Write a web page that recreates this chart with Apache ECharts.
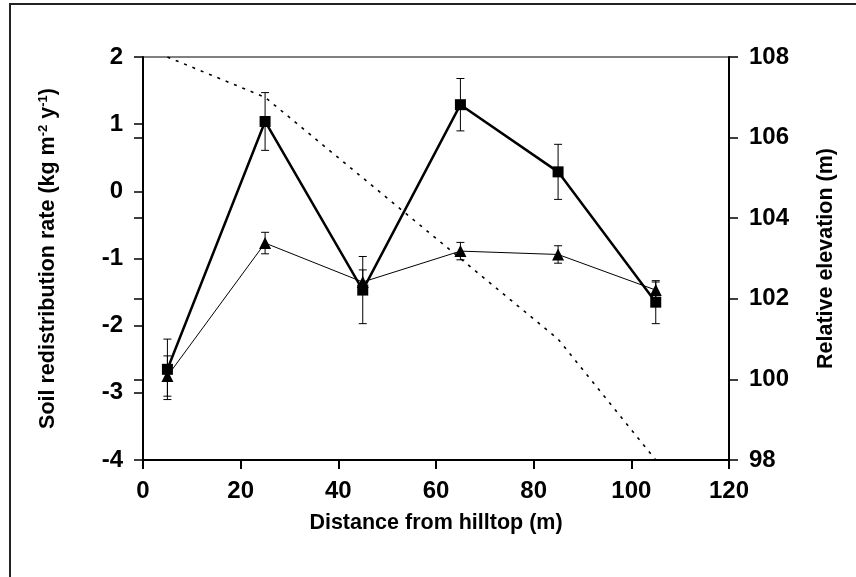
<!DOCTYPE html>
<html>
<head>
<meta charset="utf-8">
<script src="https://cdn.jsdelivr.net/npm/echarts@6/dist/echarts.min.js"></script>
<style>html,body{margin:0;padding:0;background:#fff}#c{width:856px;height:577px}</style>
</head>
<body>
<div id="c"></div>
<script>
// Data
var distance = [5, 25, 45, 65, 85, 105];
var squareMean = [-2.65, 1.04, -1.47, 1.29, 0.29, -1.65];
var squareErr  = [0.45, 0.43, 0.50, 0.39, 0.41, 0.32];
var triMean    = [-2.75, -0.77, -1.35, -0.89, -0.94, -1.47];
var triErr     = [0.30, 0.16, 0.18, 0.13, 0.13, 0.12];
var elevation  = [108.0, 107.0, 105.0, 103.0, 101.0, 98.0];
var xTicks = [0, 20, 40, 60, 80, 100, 120];
var yLeftTicks = [-4, -3, -2, -1, 0, 1, 2];
var yRightTicks = [98, 100, 102, 104, 106, 108];

var FONT = 'Liberation Sans, Arial, sans-serif';
function pairs(xs, ys){ return xs.map(function(x,i){ return [x, ys[i]]; }); }
function errData(xs, m, e){ return xs.map(function(x,i){ return [x, m[i]-e[i], m[i]+e[i]]; }); }

function errRender(params, api){
  var x = api.value(0);
  var lo = api.coord([x, api.value(1)]);
  var hi = api.coord([x, api.value(2)]);
  var w = 4;
  var st = {stroke:'#000', lineWidth:1};
  return {type:'group', children:[
    {type:'line', shape:{x1:lo[0], y1:lo[1], x2:hi[0], y2:hi[1]}, style:st},
    {type:'line', shape:{x1:hi[0]-w, y1:hi[1], x2:hi[0]+w, y2:hi[1]}, style:st},
    {type:'line', shape:{x1:lo[0]-w, y1:lo[1], x2:lo[0]+w, y2:lo[1]}, style:st}
  ]};
}

var labelStyle = {color:'#000', fontSize:24, fontWeight:'bold', fontFamily:FONT};
var nameStyle = {color:'#000', fontSize:21.5, fontWeight:'bold', fontFamily:FONT};

var chart = echarts.init(document.getElementById('c'));
chart.setOption({
  animation:false,
  backgroundColor:'#fff',
  graphic:[{type:'rect', shape:{x:10, y:4, width:900, height:700}, style:{fill:null, stroke:'#222', lineWidth:2}, silent:true}],
  grid:{left:143, right:127, top:57, bottom:117, show:true, borderColor:'#000', borderWidth:1},
  xAxis:{type:'value', min:xTicks[0], max:xTicks[xTicks.length-1], interval:20,
    name:'Distance from hilltop (m)', nameLocation:'middle', nameGap:52, nameTextStyle:nameStyle,
    axisLine:{onZero:false, lineStyle:{color:'#000', width:2}}, axisTick:{show:true, length:9, lineStyle:{color:'#000', width:2}},
    axisLabel:Object.assign({margin:19}, labelStyle), splitLine:{show:false}},
  yAxis:[
    {type:'value', position:'left', min:yLeftTicks[0], max:yLeftTicks[yLeftTicks.length-1], interval:1,
      name:'Soil redistribution rate (kg m{sup|-2} y{sup|-1})', nameLocation:'middle', nameRotate:90, nameGap:84,
      nameTextStyle:Object.assign({rich:{sup:{fontSize:13, fontWeight:'bold', fontFamily:FONT, color:'#000', verticalAlign:'top', lineHeight:14}}}, nameStyle),
      axisLine:{show:true, onZero:false, lineStyle:{color:'#000', width:2}}, axisTick:{show:true, length:9, lineStyle:{color:'#000', width:1.5}},
      axisLabel:Object.assign({margin:20}, labelStyle), splitLine:{show:false}},
    {type:'value', position:'right', min:yRightTicks[0], max:yRightTicks[yRightTicks.length-1], interval:2, alignTicks:false,
      name:'Relative elevation (m)', nameLocation:'middle', nameRotate:90, nameGap:86, nameTextStyle:nameStyle,
      axisLine:{show:true, onZero:false, lineStyle:{color:'#000', width:2}}, axisTick:{show:true, length:9, lineStyle:{color:'#000', width:1.5}},
      axisLabel:Object.assign({margin:20}, labelStyle), splitLine:{show:false}},
    {type:'value', position:'right', min:yRightTicks[0], max:yRightTicks[yRightTicks.length-1], interval:2, alignTicks:false,
      axisLine:{show:false}, axisTick:{show:true, inside:true, length:9, lineStyle:{color:'#000', width:1.5}},
      axisLabel:{show:false}, splitLine:{show:false}}
  ],
  series:[
    {type:'line', yAxisIndex:1, data:pairs(distance, elevation), symbol:'none', z:1,
      lineStyle:{color:'#000', width:1.6, type:[3,6]}},
    {type:'custom', yAxisIndex:0, data:errData(distance, triMean, triErr), renderItem:errRender, z:2},
    {type:'line', yAxisIndex:0, data:pairs(distance, triMean), symbol:'triangle', symbolSize:12, z:3,
      lineStyle:{color:'#000', width:1}, itemStyle:{color:'#000'}},
    {type:'custom', yAxisIndex:0, data:errData(distance, squareMean, squareErr), renderItem:errRender, z:4},
    {type:'line', yAxisIndex:0, data:pairs(distance, squareMean), symbol:'rect', symbolSize:11, z:5,
      lineStyle:{color:'#000', width:2.5}, itemStyle:{color:'#000'}}
  ]
});
</script>
</body>
</html>
